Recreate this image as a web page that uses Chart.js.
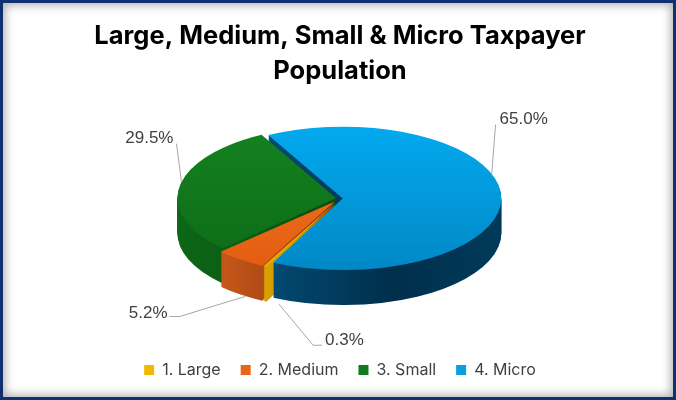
<!DOCTYPE html>
<html><head><meta charset="utf-8">
<script src="https://cdn.jsdelivr.net/npm/chart.js@4/dist/chart.umd.min.js"></script>
<style>
html,body{margin:0;padding:0;background:#fff;}
#wrap{position:relative;width:676px;height:400px;overflow:hidden;}
#frame{position:absolute;left:0;top:0;width:676px;height:400px;box-sizing:border-box;border:3px solid #10306f;box-shadow:inset 0 0 10px 2px rgba(0,0,0,0.32);pointer-events:none;}
canvas{display:block}
</style></head><body>
<div id="wrap"><canvas id="c" width="676" height="400"></canvas><div id="frame"></div></div>
<script>
// ---- data ----
const titleLines = ['Large, Medium, Small & Micro Taxpayer', 'Population'];
const categories = ['1. Large', '2. Medium', '3. Small', '4. Micro'];
const shares = [0.3, 5.2, 29.5, 65.0];
const percentLabels = shares.map(v => v.toFixed(1) + '%');

// ---- styles ----
const topColors  = [['#FFC81C', '#E9A900'], ['#F8761F', '#E25D12'], ['#14821F', '#0D6B17'], ['#03A9EE', '#0188C5']];
const sideColors = [['#D9A200', '#B58600'], ['#C8581B', '#88340C'], ['#0C6716', '#084C0E'], ['#0C6598', '#02466C', '#002F4C', '#003A5A']];
const legendColors = ['#F2B800', '#E8661A', '#127A1F', '#0AA0DE'];
const explode = [7, 7, 3, 2];

// pie view (layout only)
const view = { rxFrac: 0.236, tilt: 0.452, depth: 35, shiftY: -22 };
// label layout in ellipse-normalised coordinates
const labelLayout = [
  { deg: 111, face: 'bottom', pts: [[-0.169, 2.048], [-0.113, 2.048]], text: [-0.094, 1.983], align: 'left' },
  { deg: 124, face: 'bottom', pts: [[-1.0125, 1.648], [-1.075, 1.648]], text: [-1.0875, 1.608], align: 'right' },
  { deg: 193, face: 'top', pts: [[-1.031, -0.764]], text: [-1.05, -0.844], align: 'right' },
  { deg: -20, face: 'top', pts: [[0.981, -1.03]], text: [1.006, -1.10], align: 'left' }
];

const pie3d = {
  id: 'pie3d',
  beforeDatasetsDraw(chart) {
    const ctx = chart.ctx;
    const ca = chart.chartArea;
    const arcs = chart.getDatasetMeta(0).data;
    const R = arcs[0].outerRadius;
    const rx = ca.width * view.rxFrac;
    const ry = rx * view.tilt;
    const s = rx / R;
    const X0 = arcs[0].x;
    const Y0 = (ca.top + ca.bottom) / 2 + view.shiftY;
    const D = view.depth;
    const geo = arcs.map((el, i) => {
      const mid = (el.startAngle + el.endAngle) / 2;
      const off = (el.options.offset || 0) * s;
      return { el, x: X0 + Math.cos(mid) * off, y: Y0 + Math.sin(mid) * off * view.tilt };
    });
    const path = (g, dy) => {
      ctx.beginPath();
      ctx.moveTo(g.x, g.y + dy);
      ctx.ellipse(g.x, g.y + dy, rx, ry, 0, g.el.startAngle, g.el.endAngle);
      ctx.closePath();
    };
    const topGrad = topColors.map(cols => {
      const gr = ctx.createLinearGradient(0, Y0 - ry, 0, Y0 + ry);
      gr.addColorStop(0, cols[0]); gr.addColorStop(1, cols[1]);
      return gr;
    });
    ctx.save();
    const localSide = geo.map((g, i) => {
      const cols = sideColors[i];
      if (i === 3) {
        const gr = ctx.createLinearGradient(X0 - rx, 0, X0 + rx, 0);
        cols.forEach((c, k) => gr.addColorStop(k / (cols.length - 1), c));
        return gr;
      }
      const a0 = g.el.startAngle, a1 = g.el.endAngle;
      let xmin = Infinity, xmax = -Infinity;
      for (let t = 0; t <= 20; t++) {
        const a = a0 + (a1 - a0) * t / 20;
        const x = g.x + rx * Math.cos(a);
        xmin = Math.min(xmin, x); xmax = Math.max(xmax, x);
      }
      xmax = Math.max(xmax, g.x);
      const gr = ctx.createLinearGradient(xmin, 0, xmax, 0);
      gr.addColorStop(0, cols[0]); gr.addColorStop(1, cols[1]);
      return gr;
    });
    for (let d = D; d >= 1; d--) {
      geo.forEach((g, i) => { path(g, d); ctx.fillStyle = localSide[i]; ctx.fill(); });
    }
    geo.forEach((g, i) => { path(g, 0); ctx.fillStyle = topGrad[i]; ctx.fill(); });

    // data labels
    ctx.font = '17px "Liberation Sans", Arial, sans-serif';
    ctx.textBaseline = 'middle';
    geo.forEach((g, i) => {
      const L = labelLayout[i];
      const a = L.deg * Math.PI / 180;
      const ax = g.x + rx * Math.cos(a);
      const ay = g.y + ry * Math.sin(a) + (L.face === 'bottom' ? D : 0);
      ctx.beginPath();
      ctx.moveTo(ax, ay);
      L.pts.forEach(p => ctx.lineTo(X0 + p[0] * rx, Y0 + p[1] * ry));
      ctx.strokeStyle = '#A6A6A6';
      ctx.lineWidth = 1;
      ctx.stroke();
      ctx.fillStyle = '#404040';
      ctx.textAlign = L.align;
      ctx.fillText(percentLabels[i], X0 + L.text[0] * rx, Y0 + L.text[1] * ry);
    });
    ctx.restore();
    return false;
  }
};

new Chart(document.getElementById('c'), {
  type: 'pie',
  data: {
    labels: categories,
    datasets: [{ data: shares, backgroundColor: legendColors, borderWidth: 0, offset: explode }]
  },
  options: {
    responsive: false,
    animation: false,
    devicePixelRatio: 1,
    rotation: 206,
    layout: { padding: { top: 13, bottom: 12, left: 4, right: 0 } },
    plugins: {
      tooltip: { enabled: false },
      title: {
        display: true,
        text: titleLines,
        color: '#000000',
        font: { family: 'Inter', size: 25.5, weight: '700', lineHeight: 1.37 },
        padding: { top: 6, bottom: 10 }
      },
      legend: {
        position: 'bottom',
        labels: {
          boxWidth: 10, boxHeight: 10, padding: 20,
          color: '#404040',
          font: { family: 'Inter', size: 16 }
        }
      }
    }
  },
  plugins: [pie3d]
});
</script>
</body></html>
